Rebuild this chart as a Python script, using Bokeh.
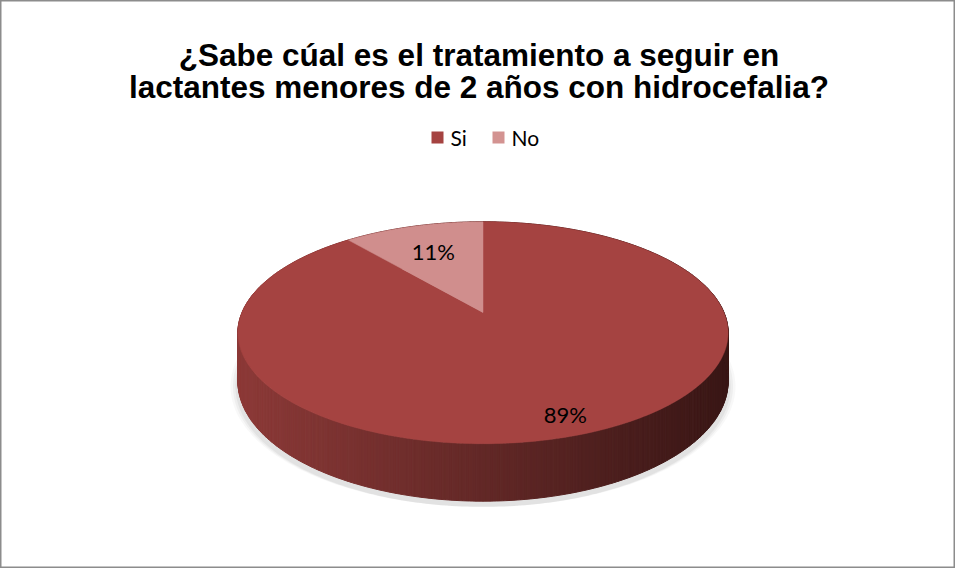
import numpy as np
from bokeh.plotting import figure
from bokeh.models import Range1d
from bokeh.core.properties import value
from bokeh.embed import file_html
from bokeh.resources import INLINE

# ---- data ----
categories = ["Si", "No"]
values = [89, 11]
pct_labels = ["89%", "11%"]
colors = ["#A54341", "#D08E8D"]
legend_colors = ["#A54341", "#D39391"]
title_lines = ["¿Sabe cúal es el tratamiento a seguir en",
               "lactantes menores de 2 años con hidrocefalia?"]

# ---- layout / style constants ----
W, H = 955, 568
CX, B0, R = 482.5, 312.0, 241.0      # pie centre x, centre y (v=0), radius
A0, C0 = -50.45, 0.1822             # perspective parameters
DEPTH = 47.0
LABEL_R = [0.86, 0.68]
SIDE_LEFT = np.array([140, 58, 56])
SIDE_RIGHT = np.array([58, 23, 22])

p = figure(width=W, height=H, x_range=Range1d(0, W), y_range=Range1d(H, 0),
           output_backend="svg", toolbar_location=None, min_border=0)
p.axis.visible = False
p.grid.visible = False
p.outline_line_color = "#8c8c8c"
p.outline_line_width = 2
p.background_fill_color = "white"
p.border_fill_color = "white"


def proj(theta, r=1.0, drop=0.0):
    u = r * np.cos(theta)
    v = r * np.sin(theta)
    d = 1 + C0 * v
    return CX + R * u / d, (A0 * v + B0) / d + drop / d


# shadow (soft)
th = np.linspace(0, 2 * np.pi, 361)
for grow, alpha in [(1.03, 0.06), (1.02, 0.08), (1.01, 0.10)]:
    sx, sy = proj(th, 1.0, DEPTH + 3)
    sx = CX + (sx - CX) * grow
    p.patch(list(sx), list(sy + 2), fill_color="#808080", fill_alpha=alpha, line_color=None)

# side of cylinder (quads, gradient by x)
N = 540
ths = np.linspace(0, 2 * np.pi, N + 1)
xs_side, ys_side, cols = [], [], []
for i in range(N):
    t0, t1 = ths[i], ths[i + 1]
    x0, y0 = proj(t0)
    x1, y1 = proj(t1)
    bx0, by0 = proj(t0, drop=DEPTH)
    bx1, by1 = proj(t1, drop=DEPTH)
    xs_side.append([x0, x1, bx1, bx0])
    ys_side.append([y0, y1, by1, by0])
    t = np.clip(((x0 + x1) / 2 - (CX - R)) / (2 * R), 0, 1)
    c = (SIDE_LEFT + (SIDE_RIGHT - SIDE_LEFT) * t).astype(int)
    cols.append("#%02x%02x%02x" % tuple(c))
p.patches(xs_side, ys_side, fill_color=cols, line_color=cols, line_width=1)

# top surfaces
total = sum(values)
start = np.pi / 2
label_pos = []
for val, col, lr in zip(values, colors, LABEL_R):
    sweep = 2 * np.pi * val / total
    a = np.linspace(start, start - sweep, 400)
    ax, ay = proj(a)
    cx0, cy0 = proj(np.array([0.0]), r=0.0)
    px = [cx0[0]] + list(ax)
    py = [cy0[0]] + list(ay)
    p.patch(px, py, fill_color=col, line_color=col, line_width=0.5)
    mid = start - sweep / 2
    lx, ly = proj(np.array([mid]), r=lr)
    label_pos.append((lx[0], ly[0]))
    start -= sweep

p.text(x=[lp[0] for lp in label_pos], y=[lp[1] for lp in label_pos], text=pct_labels,
       text_font=value("Lato"), text_font_size="22px", text_color="#000000",
       text_align="center", text_baseline="middle")

# title
p.text(x=[W / 2 + 1, W / 2 + 1], y=[54, 86], text=title_lines,
       text_font=value("Liberation Sans"), text_font_style="bold",
       text_font_size="31.5px", text_color="#000000",
       text_align="center", text_baseline="alphabetic")

# legend
leg_sq_x = [437, 498]
leg_tx_x = [450, 511]
p.rect(x=leg_sq_x, y=[137, 137], width=12, height=12, fill_color=legend_colors, line_color=None)
p.text(x=leg_tx_x, y=[137, 137], text=categories, text_font=value("Lato"),
       text_font_size="21px", text_color="#000000", text_align="left", text_baseline="middle")

open("out.html", "w").write(file_html(p, INLINE))
